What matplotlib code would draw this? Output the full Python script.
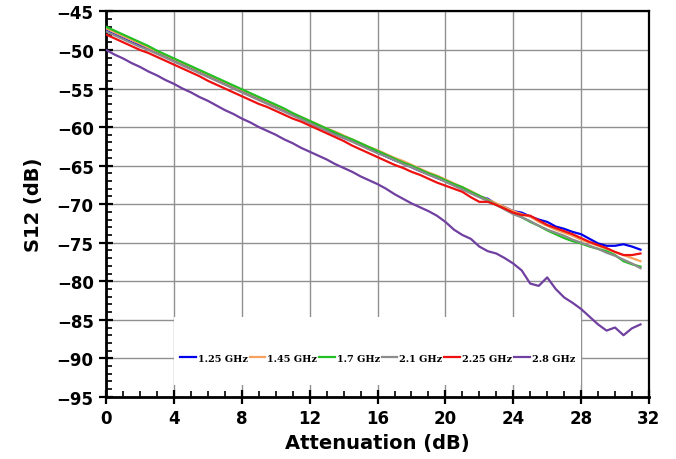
import numpy as np
import matplotlib
matplotlib.use("Agg")
import matplotlib.pyplot as plt
from matplotlib.patches import Rectangle
from matplotlib.ticker import MultipleLocator

atten = np.arange(0, 32, 0.5)

s_125 = [-47.5, -48.0, -48.5, -49.0, -49.4, -49.9, -50.4, -50.9, -51.4, -51.9, -52.4, -52.9, -53.4, -53.9, -54.4, -54.9,
         -55.4, -55.9, -56.4, -56.9, -57.4, -57.9, -58.4, -58.9, -59.4, -59.9, -60.4, -60.9, -61.4, -61.8, -62.3, -62.8,
         -63.3, -63.8, -64.3, -64.7, -65.2, -65.7, -66.1, -66.6, -67.0, -67.5, -68.0, -68.5, -69.0, -69.3, -70.0, -70.4,
         -70.9, -71.1, -71.6, -72.0, -72.3, -72.9, -73.2, -73.6, -73.9, -74.5, -75.1, -75.4, -75.4, -75.2, -75.5, -75.9]
s_145 = [-47.2, -47.7, -48.2, -48.7, -49.2, -49.7, -50.2, -50.7, -51.2, -51.7, -52.2, -52.7, -53.2, -53.7, -54.2, -54.7,
         -55.2, -55.7, -56.2, -56.7, -57.2, -57.7, -58.2, -58.7, -59.2, -59.7, -60.2, -60.6, -61.1, -61.6, -62.1, -62.6,
         -63.0, -63.5, -64.0, -64.4, -64.9, -65.4, -65.9, -66.3, -66.8, -67.3, -67.8, -68.3, -68.9, -69.4, -69.9, -70.4,
         -70.9, -71.3, -71.6, -72.3, -72.8, -73.3, -73.7, -74.1, -74.6, -75.0, -75.4, -75.8, -76.2, -76.6, -77.0, -77.4]
s_170 = [-47.0, -47.5, -48.0, -48.5, -49.0, -49.5, -50.1, -50.6, -51.1, -51.6, -52.1, -52.6, -53.1, -53.6, -54.1, -54.6,
         -55.1, -55.6, -56.1, -56.6, -57.1, -57.6, -58.2, -58.7, -59.2, -59.7, -60.2, -60.7, -61.2, -61.6, -62.1, -62.6,
         -63.1, -63.6, -64.1, -64.6, -65.0, -65.5, -66.0, -66.4, -66.9, -67.4, -67.8, -68.4, -68.9, -69.5, -70.1, -70.6,
         -71.2, -71.7, -72.3, -72.8, -73.4, -73.9, -74.4, -74.8, -75.1, -75.5, -75.8, -76.1, -76.6, -77.4, -77.8, -78.1]
s_210 = [-47.6, -48.1, -48.6, -49.1, -49.6, -50.0, -50.5, -51.0, -51.5, -52.0, -52.5, -53.0, -53.5, -54.0, -54.5, -55.0,
         -55.5, -56.0, -56.5, -57.0, -57.5, -58.0, -58.5, -59.0, -59.5, -60.0, -60.5, -61.0, -61.4, -61.9, -62.4, -62.9,
         -63.4, -63.8, -64.3, -64.8, -65.2, -65.7, -66.2, -66.6, -67.1, -67.6, -68.1, -68.6, -69.1, -69.6, -70.1, -70.7,
         -71.3, -71.7, -72.2, -72.8, -73.3, -73.7, -74.1, -74.6, -75.0, -75.4, -75.8, -76.3, -76.7, -77.2, -77.7, -78.3]
s_225 = [-48.0, -48.5, -49.0, -49.5, -50.0, -50.4, -50.9, -51.4, -51.9, -52.4, -52.9, -53.4, -54.0, -54.5, -55.0, -55.5,
         -56.0, -56.5, -57.0, -57.4, -57.9, -58.4, -58.9, -59.3, -59.8, -60.3, -60.8, -61.3, -61.8, -62.4, -62.9, -63.4,
         -63.9, -64.4, -64.9, -65.3, -65.8, -66.2, -66.7, -67.2, -67.6, -68.0, -68.4, -69.1, -69.7, -69.7, -70.1, -70.6,
         -71.1, -71.4, -71.5, -72.1, -72.7, -73.1, -73.5, -73.9, -74.4, -74.9, -75.3, -75.7, -76.2, -76.6, -76.6, -76.4]
s_280 = [-50.0, -50.6, -51.1, -51.7, -52.2, -52.8, -53.3, -53.9, -54.4, -55.0, -55.5, -56.1, -56.6, -57.2, -57.8, -58.3,
         -58.9, -59.4, -60.0, -60.5, -61.0, -61.6, -62.1, -62.7, -63.2, -63.7, -64.2, -64.8, -65.3, -65.8, -66.4, -66.9,
         -67.4, -68.0, -68.7, -69.3, -69.9, -70.4, -70.9, -71.5, -72.3, -73.3, -74.0, -74.5, -75.5, -76.1, -76.4, -77.0,
         -77.7, -78.6, -80.3, -80.6, -79.5, -81.0, -82.1, -82.8, -83.6, -84.6, -85.6, -86.4, -86.0, -87.0, -86.1, -85.6]

labels = ["1.25 GHz", "1.45 GHz", "1.7 GHz", "2.1 GHz", "2.25 GHz", "2.8 GHz"]
series = [s_125, s_145, s_170, s_210, s_225, s_280]
colors = ["#0000EE", "#F7A25C", "#22C022", "#8C8C8C", "#EE1111", "#7040A0"]

x_ticks = [0, 4, 8, 12, 16, 20, 24, 28, 32]
y_ticks = [-95, -90, -85, -80, -75, -70, -65, -60, -55, -50, -45]

fig = plt.figure(figsize=(6.76, 4.6), dpi=100)
ax = fig.add_axes([0.157, 0.135, 0.803, 0.838])

for ys, lab, c in zip(series, labels, colors):
    ax.plot(atten, ys, color=c, lw=1.6, label=lab, zorder=3)

ax.set_xlim(0, 32)
ax.set_ylim(-95, -45)
ax.set_xticks(x_ticks)
ax.set_yticks(y_ticks)
ax.xaxis.set_minor_locator(MultipleLocator(1))
ax.yaxis.set_minor_locator(MultipleLocator(1))
ax.set_axisbelow(True)
ax.grid(True, which="major", color="#909090", lw=1.0, zorder=0.5)

ax.tick_params(which="major", direction="inout", length=10, width=1.6, labelsize=12, pad=4)
ax.tick_params(which="minor", direction="in", length=4, width=1.2)
for lab in ax.get_xticklabels() + ax.get_yticklabels():
    lab.set_fontweight("bold")

for side in ["left", "bottom"]:
    ax.spines[side].set_linewidth(2.0)
for side in ["top", "right"]:
    ax.spines[side].set_linewidth(1.6)

ax.set_xlabel("Attenuation (dB)", fontsize=14, fontweight="bold", labelpad=4)
ax.set_ylabel("S12 (dB)", fontsize=14, fontweight="bold", labelpad=10)

# white box behind the legend covering the gridlines
ax.add_patch(Rectangle((0.125, 0.032), 0.75, 0.174, transform=ax.transAxes,
                       facecolor="white", edgecolor="none", zorder=1))

leg = ax.legend(loc="center", bbox_to_anchor=(0.5, 0.1), ncol=6, frameon=False,
                prop={"size": 7, "weight": "bold", "family": "DejaVu Serif"},
                handlelength=1.6, handletextpad=0.2, columnspacing=0.2)
leg.set_zorder(4)

fig.savefig("out.png", dpi=100)
